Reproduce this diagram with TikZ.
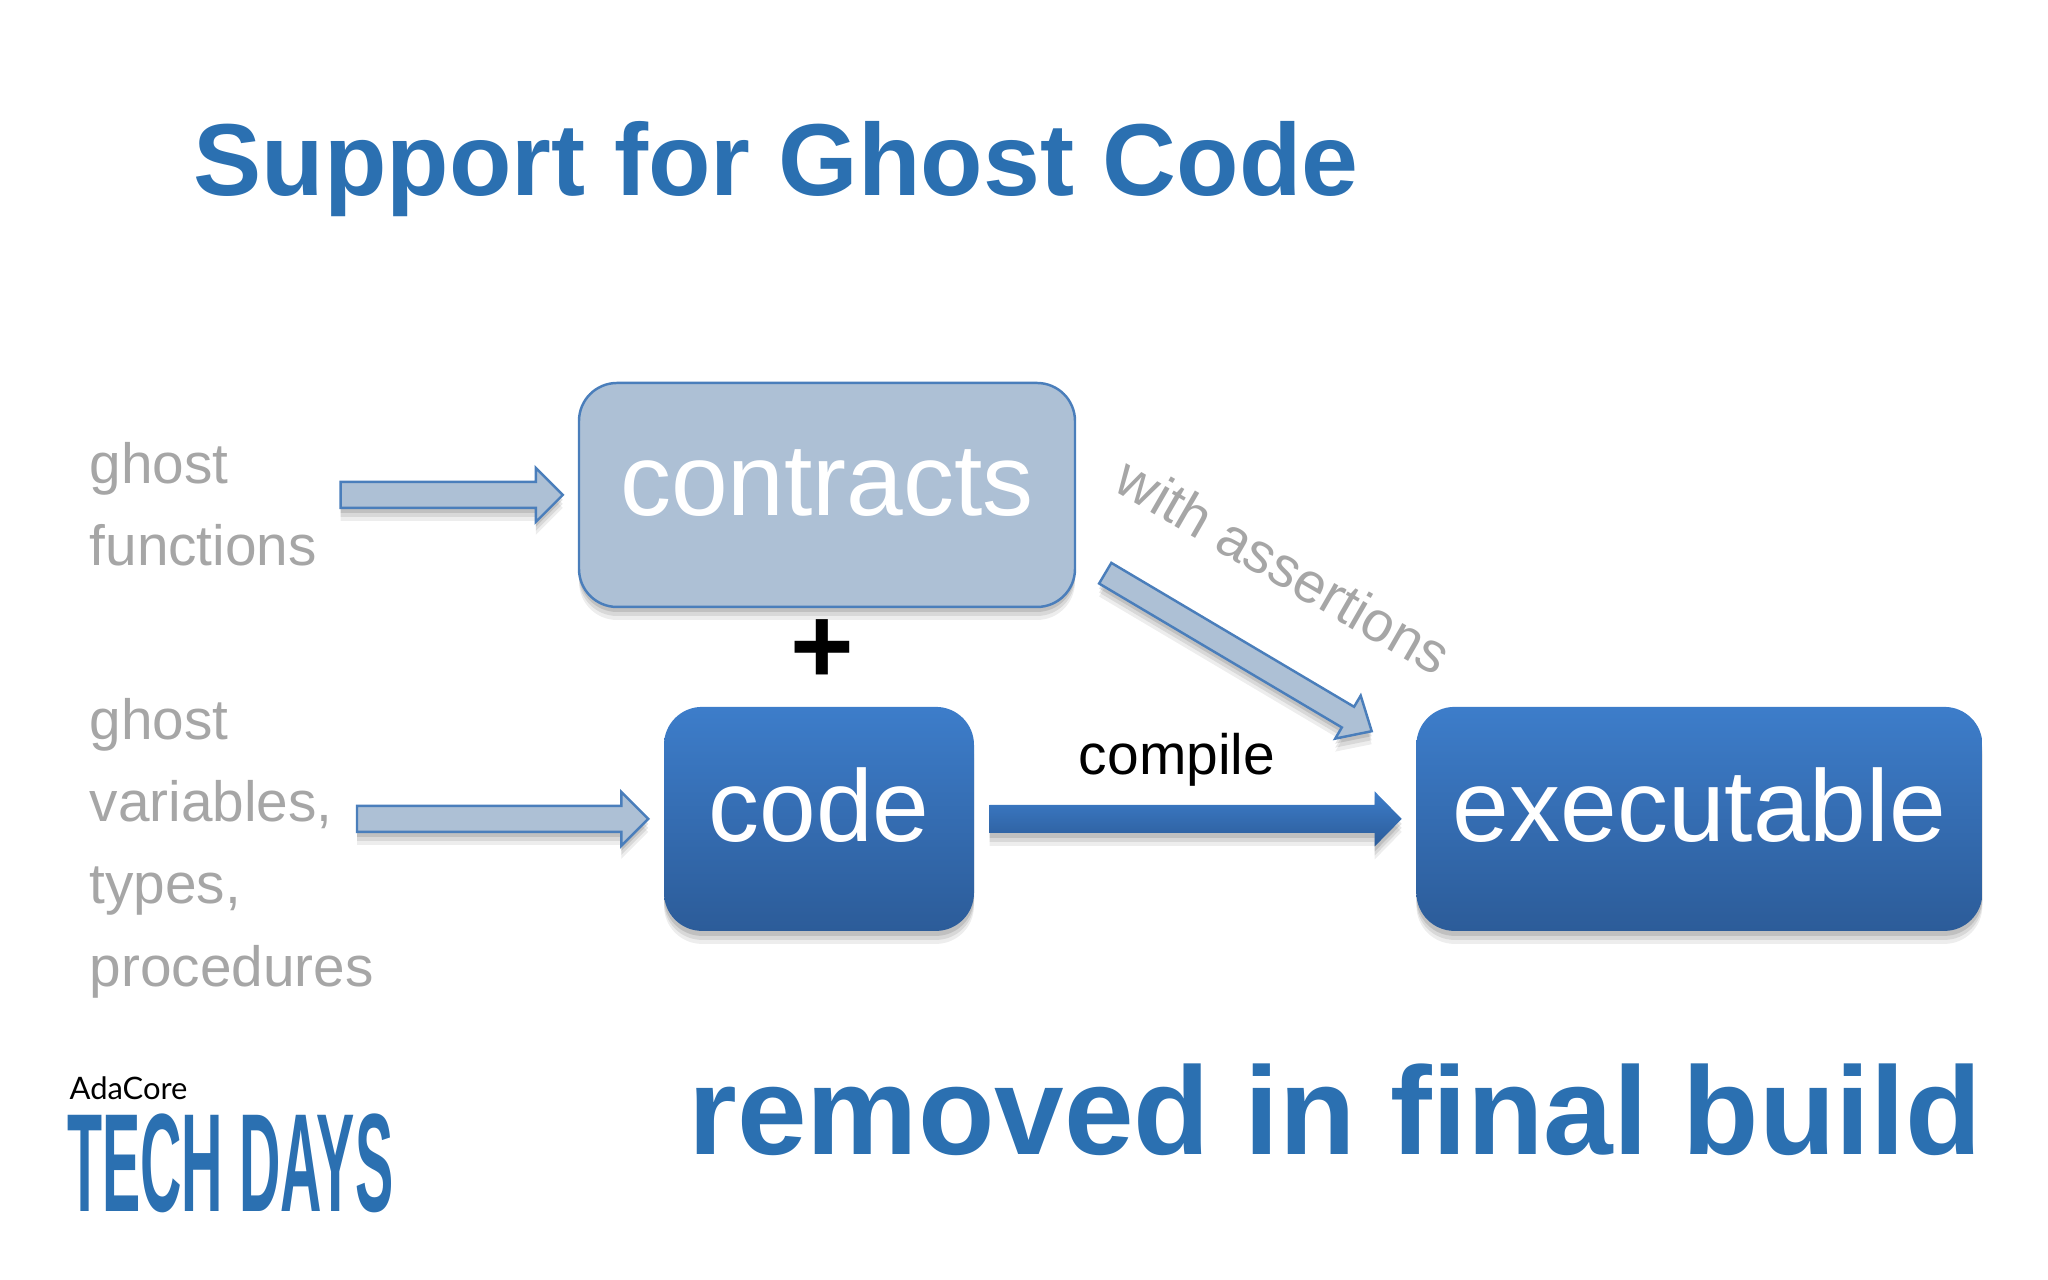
\documentclass[tikz,border=0pt]{standalone}
\usepackage{fontspec}
\setmainfont{Liberation Sans}
\newfontfamily\logofont{Lato}
\usetikzlibrary{positioning, calc, shadows}

\definecolor{titleblue}{HTML}{2B70B1}
\definecolor{ghostgray}{HTML}{A6A6A6}
\definecolor{ghostfill}{HTML}{ADC0D5}
\definecolor{ghostline}{HTML}{4A7EBB}
\definecolor{boxtop}{HTML}{3D7DCA}
\definecolor{boxbottom}{HTML}{2C5C99}

\begin{document}
\begin{tikzpicture}[
    node distance=0.98cm and 4.41cm,
    softshadow/.style={
        drop shadow={shadow xshift=0cm, shadow yshift=-0.13cm, opacity=0.07, fill=black},
        drop shadow={shadow xshift=0cm, shadow yshift=-0.09cm, opacity=0.09, fill=black},
        drop shadow={shadow xshift=0cm, shadow yshift=-0.05cm, opacity=0.11, fill=black}},
    box/.style={rounded corners=0.38cm, minimum height=2.24cm, inner sep=0pt, text=white, font=\fontsize{29}{34}\selectfont, softshadow},
    blue/.style={box, top color=boxtop, bottom color=boxbottom, text depth=0.29cm},
    pale/.style={box, fill=ghostfill, draw=ghostline, line width=0.7pt, text depth=0.24cm},
    side/.style={anchor=west, align=left, inner sep=0pt, text=ghostgray, font=\fontsize{16.15}{23.4}\selectfont},
    title/.style={anchor=base west, inner sep=0pt, text=titleblue, font=\bfseries},
    block/.style args={#1 and #2}{to path={
        let \p1=($(\tikztotarget)-(\tikztostart)$), \n1={atan2(\y1,\x1)}, \n2={veclen(\x1,\y1)} in
        ($(\tikztostart)+(\n1+90:#1)$) -- ++(\n1:\n2-0.27cm) -- ++(\n1+90:#2-#1) -- (\tikztotarget)
        -- ($(\tikztostart)+(\n1:\n2-0.27cm)+(\n1-90:#2)$) -- ++(\n1+90:#2-#1) -- ($(\tikztostart)+(\n1-90:#1)$) -- cycle}},
    ghostarrow/.style={block=0.13cm and 0.27cm, fill=ghostfill, draw=ghostline, line width=0.7pt, softshadow},
    mainarrow/.style={block=0.14cm and 0.275cm, top color=boxtop, bottom color=boxbottom, draw=none, softshadow}
]
\useasboundingbox (0,0) rectangle (20.48,12.8);

\node[title, font=\fontsize{29.1}{34}\bfseries\selectfont] (heading) at (1.93,10.84) {Support for Ghost Code};

\node[pale, minimum width=4.96cm] (contracts) at (8.27,7.85) {contracts};
\node[blue, minimum width=3.10cm, below=of contracts, xshift=-0.08cm] (code) {code};
\node[blue, minimum width=5.66cm, right=of code] (executable) {executable};

\node[side] (gfunc) at (0.89,7.76) {ghost\\functions};
\node[side] (gvars) at (0.89,4.32) {ghost\\variables,\\types,\\procedures};

\node[inner sep=0pt, font=\fontsize{31}{34}\bfseries\selectfont] (plus) at (8.22,6.28) {+};
\node[inner sep=0pt, font=\fontsize{16.2}{20}\selectfont] (compile) at (11.77,5.20) {compile};
\node[inner sep=0pt, text=ghostgray, rotate=-30, font=\fontsize{16.1}{20}\selectfont] (assert) at (12.84,7.14) {with assertions};

\draw[ghostarrow] ([xshift=0.23cm]gfunc.east |- contracts.west) to ([xshift=-0.15cm]contracts.west);
\draw[ghostarrow] (3.57,0 |- code.west) to ([xshift=-0.15cm]code.west);
\draw[ghostarrow, block=0.12cm and 0.25cm] ([shift={(0.29,0.35)}]contracts.south east) to ([shift={(-0.44,-0.25)}]executable.north west);
\path[mainarrow] ([xshift=0.15cm]code.east) to ([xshift=-0.14cm]executable.west);

\node[title, font=\fontsize{35.6}{42}\bfseries\selectfont] (removed) at (6.88,1.25) {removed in final build};

% logo
\node[anchor=base west, inner sep=0pt, font=\logofont\fontsize{8.8}{10}\selectfont] (adacore) at (0.69,1.80) {AdaCore};
\node[anchor=base west, inner sep=0pt, text=titleblue, xscale=0.41, font=\fontsize{39.8}{44}\bfseries\selectfont] (techdays) at (0.67,0.68) {TECH DAYS};

\end{tikzpicture}
\end{document}
